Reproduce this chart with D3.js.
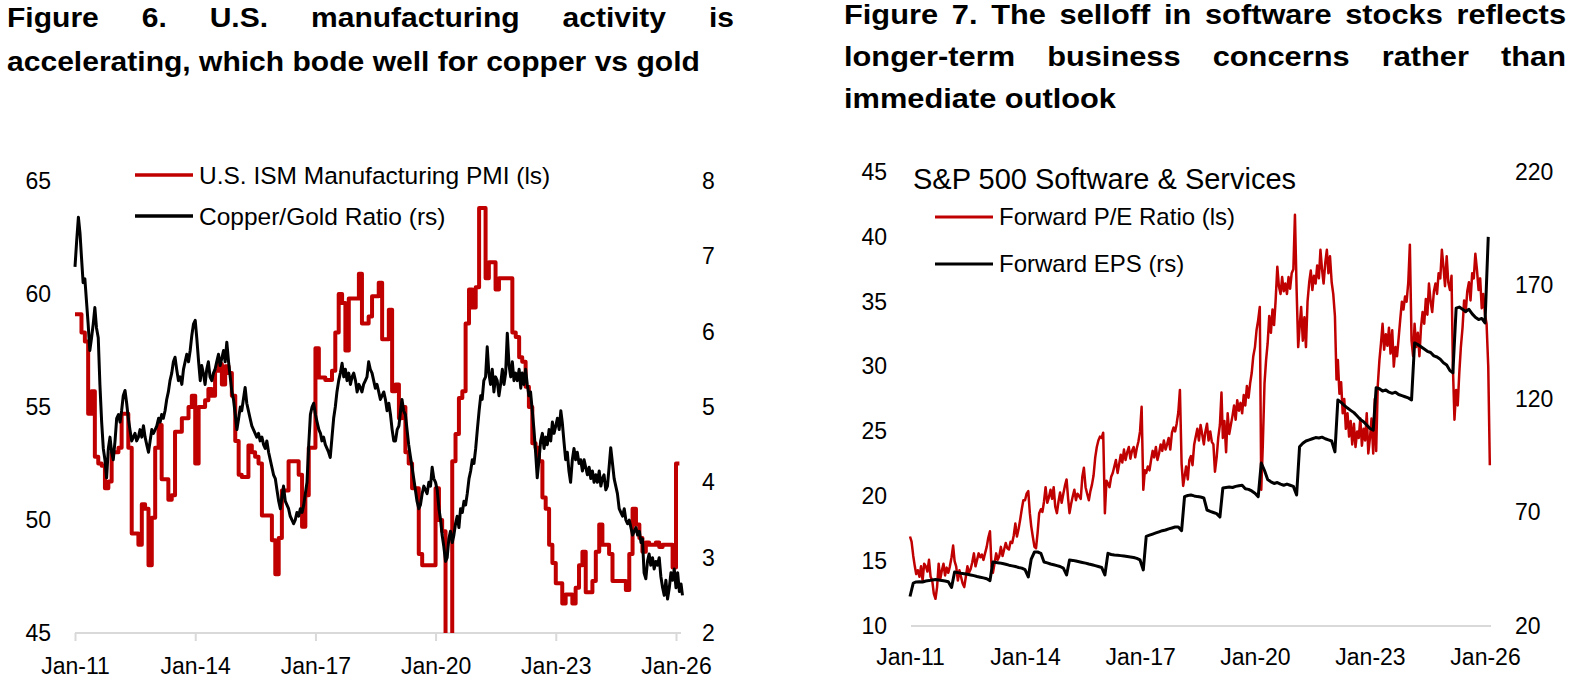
<!DOCTYPE html>
<html>
<head>
<meta charset="utf-8">
<script src="https://cdn.jsdelivr.net/npm/d3@7"></script>
<style>
  body { margin: 0; background: #fff; }
  svg text { font-family: "Liberation Sans", Arial, sans-serif; fill: #000; }
  svg text.ttl { font-weight: bold; font-size: 27.5px; }
</style>
</head>
<body>
<script>
// ---- data ----
// ISM manufacturing PMI, monthly from Jan-11 to Jan-26
var pmi = [
  59.1, 59.1, 58.3, 57.9, 54.7, 55.7, 52.8, 52.5, 52.4, 51.4, 51.7, 53.0,
  53.0, 53.2, 54.7, 54.7, 53.2, 49.4, 49.4, 48.9, 50.7, 50.5, 48.0, 50.1,
  53.2, 54.2, 51.8, 51.8, 50.9, 51.1, 53.9, 53.9, 54.5, 54.5, 55.0, 55.5,
  52.5, 55.0, 55.0, 55.3, 55.8, 55.5, 56.6, 56.9, 56.0, 56.8, 56.5, 55.5,
  53.5, 52.0, 51.9, 51.9, 53.3, 53.0, 52.8, 52.5, 50.2, 50.2, 50.2, 49.1,
  47.6, 49.2, 51.3, 51.3, 52.6, 52.6, 52.6, 52.0, 49.7, 51.1, 53.2, 53.2,
  57.6, 56.3, 56.3, 56.2, 56.2, 56.6, 58.3, 60.0, 59.6, 57.5, 59.8, 59.8,
  59.8, 60.9, 58.7, 58.7, 59.0, 59.9, 59.9, 60.5, 58.0, 58.0, 59.3, 55.7,
  56.0, 54.5, 55.0, 53.0, 52.5, 51.4, 51.4, 48.5, 48.0, 48.0, 48.0, 48.0,
  51.4, 50.0, 49.5, 41.5, 43.1, 52.6, 53.8, 55.4, 55.7, 58.7, 60.2, 59.4,
  60.3, 63.8, 63.8, 60.7, 61.4, 61.4, 60.2, 60.7, 60.7, 60.7, 60.7, 58.3,
  58.1, 57.2, 57.0, 55.9, 55.0, 53.4, 53.2, 52.6, 51.0, 50.5, 48.9, 48.1,
  47.2, 47.2, 46.3, 46.7, 46.7, 46.3, 47.0, 48.0, 48.6, 46.8, 46.8, 47.3,
  48.6, 49.8, 48.9, 48.9, 48.5, 47.3, 47.3, 47.3, 47.3, 46.9, 48.5, 50.5,
  49.8, 49.2, 48.6, 49.0, 48.9, 48.9, 49.0, 48.8, 48.9, 48.9, 48.9, 47.9,
  52.5
];

// copper/gold ratio, twice a month from Jan-11
var copperGold = [
  6.86, 7.2, 7.52, 7.3, 6.99, 6.65, 6.7, 6.4, 6.1, 5.75, 5.92, 6.1, 6.32, 6.05, 5.92, 5.3, 4.8, 4.45, 4.3, 4.06, 4.45, 4.6, 4.4, 4.3,
  4.55, 4.85, 4.9, 4.8, 4.95, 5.15, 5.22, 5.05, 4.85, 4.7, 4.55, 4.6, 4.65, 4.55, 4.6, 4.7, 4.6, 4.75, 4.6, 4.5, 4.4, 4.55, 4.7, 4.65,
  4.7, 4.75, 4.85, 4.8, 4.9, 4.85, 4.95, 5.1, 5.2, 5.35, 5.45, 5.6, 5.66, 5.5, 5.35, 5.4, 5.3, 5.5, 5.6, 5.7, 5.6, 5.75, 5.95, 6.1,
  6.15, 5.9, 5.6, 5.35, 5.55, 5.45, 5.3, 5.5, 5.6, 5.4, 5.35, 5.45, 5.5, 5.6, 5.7, 5.55, 5.65, 5.75, 5.6, 5.86, 5.6, 5.4, 5.2, 5.1,
  4.9, 4.7, 4.85, 5.0, 4.95, 5.1, 5.26, 5.05, 4.95, 4.85, 4.75, 4.7, 4.65, 4.6, 4.65, 4.55, 4.6, 4.5, 4.45, 4.55, 4.4, 4.3, 4.2, 4.1,
  4.05, 3.9, 3.75, 3.65, 3.8, 3.95, 3.75, 3.7, 3.65, 3.55, 3.5, 3.45, 3.5, 3.6, 3.55, 3.65, 3.6, 3.7, 3.85, 4.0, 4.5, 4.9, 5.0, 5.05,
  4.9, 4.8, 4.7, 4.65, 4.55, 4.6, 4.5, 4.45, 4.4, 4.33, 4.6, 4.85, 5.0, 5.2, 5.35, 5.45, 5.58, 5.4, 5.5, 5.35, 5.45, 5.3, 5.4, 5.45,
  5.35, 5.2, 5.3, 5.25, 5.2, 5.3, 5.35, 5.4, 5.6, 5.5, 5.45, 5.35, 5.25, 5.3, 5.2, 5.1, 5.15, 5.2, 5.1, 4.95, 5.05, 4.9, 4.7, 4.55,
  4.55, 4.7, 4.75, 4.95, 5.1, 4.95, 4.9, 4.7, 4.5, 4.35, 4.2, 4.05, 3.9, 3.75, 3.65, 3.7, 3.85, 3.95, 3.9, 3.85, 4.0, 3.95, 4.2, 4.05,
  4.0, 3.9, 3.65, 3.5, 3.3, 3.15, 2.95, 3.0, 3.25, 3.35, 3.2, 3.3, 3.45, 3.55, 3.4, 3.65, 3.6, 3.75, 3.7, 3.85, 4.05, 4.15, 4.3, 4.25,
  4.45, 4.7, 4.95, 5.15, 5.1, 5.35, 5.4, 5.8, 5.45, 5.3, 5.5, 5.2, 5.4, 5.35, 5.15, 5.3, 5.5, 5.3, 5.45, 5.98, 5.55, 5.4, 5.6, 5.35,
  5.45, 5.35, 5.5, 5.25, 5.45, 5.3, 5.5, 5.3, 5.15, 5.2, 4.95, 4.7, 4.4, 4.06, 4.3, 4.55, 4.65, 4.45, 4.6, 4.5, 4.7, 4.55, 4.8, 4.65,
  4.75, 4.85, 4.7, 4.95, 4.8, 4.55, 4.3, 4.4, 4.15, 4.0, 4.3, 4.45, 4.3, 4.4, 4.25, 4.3, 4.15, 4.3, 4.2, 4.1, 4.2, 4.05, 4.15, 4.0,
  4.1, 4.0, 4.15, 3.95, 4.05, 4.1, 3.9, 3.95, 4.2, 4.46, 4.25, 4.05, 3.95, 3.85, 3.65, 3.6, 3.55, 3.65, 3.5, 3.45, 3.5, 3.4, 3.3, 3.35,
  3.4, 3.3, 3.35, 3.2, 3.25, 2.8, 2.72, 2.95, 3.05, 2.9, 3.0, 2.85, 2.95, 2.9, 3.0, 2.75, 2.6, 2.5, 2.7, 2.45, 2.6, 2.8, 2.7, 2.85,
  2.6, 2.8, 2.55, 2.65, 2.5
];

// S&P 500 software & services forward P/E, twice a month from Jan-11
var forwardPE = [
  16.9, 16.5, 15.4, 14.6, 14.0, 14.3, 13.8, 14.6, 13.5, 14.8, 14.6, 14.2, 15.1, 13.8, 13.5, 12.5, 12.1, 13.0, 14.8, 13.6, 14.3, 14.8, 13.9, 14.5,
  14.1, 14.6, 15.3, 16.2, 15.0, 14.6, 13.5, 14.3, 13.8, 13.3, 13.0, 13.8, 14.6, 14.1, 14.4, 14.9, 15.6, 14.6, 15.1, 15.6, 15.3, 15.5, 15.1, 15.6,
  16.1, 16.8, 17.3, 14.6, 14.1, 14.8, 15.6, 15.1, 15.4, 16.1, 15.4, 15.9, 16.4, 16.0, 15.9, 16.5, 16.4, 17.0, 17.9, 16.9, 17.5, 18.2, 19.0, 19.7,
  19.7, 20.2, 20.4, 18.7, 17.7, 16.9, 16.1, 16.0, 17.2, 18.7, 19.0, 18.8, 19.6, 20.7, 19.5, 19.9, 20.5, 19.8, 20.7, 19.2, 18.7, 19.6, 20.3, 19.5,
  20.2, 20.8, 21.3, 19.8, 18.7, 19.4, 20.0, 20.5, 19.7, 20.2, 20.0, 19.8, 21.5, 22.2, 20.7, 20.2, 19.7, 20.4, 20.9, 21.6, 23.0, 23.8, 24.3, 24.6,
  24.5, 24.9, 18.7, 21.2, 21.0, 20.7, 21.5, 21.8, 22.3, 22.8, 21.8, 22.5, 23.2, 22.6, 23.6, 22.8, 23.4, 23.8, 22.9, 23.5, 23.8, 23.0, 23.7, 24.2,
  25.0, 26.9, 20.5, 22.0, 21.8, 22.3, 22.0, 22.8, 23.5, 23.0, 23.8, 22.8, 23.3, 24.0, 23.5, 24.3, 23.6, 24.0, 24.5, 23.6, 24.9, 25.3, 25.0, 25.6,
  26.5, 28.2, 22.5, 20.8, 21.5, 22.3, 21.3, 22.8, 23.1, 22.4, 24.0, 24.6, 25.2, 24.3, 25.5, 24.8, 24.0, 25.0, 25.6, 24.3, 25.0, 24.2, 24.0, 21.9,
  23.0, 24.5, 25.5, 28.0, 24.5, 25.8, 23.4, 26.4, 24.8, 25.5, 26.2, 27.0, 25.9, 27.4, 26.6, 27.2, 26.4, 27.8, 27.0, 28.5, 27.6, 28.7, 29.5, 30.8,
  31.5, 32.8, 33.6, 34.6, 20.5, 24.0, 28.7, 30.5, 31.8, 33.9, 32.6, 34.4, 33.2, 35.1, 37.7, 36.2, 35.6, 36.9, 35.8, 36.4, 35.6, 36.9, 36.0, 37.2,
  37.5, 41.7, 35.9, 31.5, 33.0, 34.6, 32.0, 33.8, 31.5, 35.0, 36.5, 37.4, 35.9, 37.0, 36.4, 37.8, 36.8, 39.0, 37.5, 36.4, 38.0, 39.0, 37.2, 38.5,
  36.5, 35.6, 33.9, 29.0, 30.5, 27.9, 28.8, 26.4, 27.5, 25.2, 26.4, 24.6, 25.8, 24.0, 25.6, 23.8, 25.0, 24.5, 26.0, 23.9, 25.2, 24.3, 26.4, 23.3,
  24.5, 26.0, 23.3, 27.5, 23.5, 28.5, 30.5, 31.8, 33.3, 31.3, 32.5, 31.6, 33.0, 31.0, 32.8, 30.0, 31.5, 30.8, 32.2, 33.6, 35.0, 34.4, 35.4, 35.0,
  36.5, 39.4, 32.0, 30.8, 33.3, 31.5, 32.6, 30.8, 33.0, 34.2, 33.3, 35.2, 34.0, 36.4, 35.0, 34.2, 35.8, 36.4, 35.6, 37.2, 36.8, 39.0, 37.7, 36.2,
  38.5, 36.5, 35.9, 37.0, 30.0, 25.9, 28.2, 27.0, 29.5, 31.5, 33.0, 35.1, 34.2, 35.8, 36.5, 35.1, 37.2, 36.8, 38.7, 37.5, 35.9, 36.8, 34.5, 35.6,
  34.0, 33.3, 30.0, 22.4
];

// forward EPS, monthly from Jan-11
var forwardEPS = [
  33.0, 38.9, 39.4, 39.5, 39.4, 39.8, 40.0, 40.3, 40.5, 40.3, 40.0, 39.8,
  39.5, 37.0, 43.8, 43.5, 43.2, 43.0, 42.8, 42.5, 42.2, 41.8, 41.5, 41.2,
  40.8, 40.0, 48.2, 48.0, 47.8, 47.5, 47.2, 46.8, 46.5, 46.2, 45.8, 45.5,
  44.8, 41.6, 49.5, 52.6, 52.6, 52.0, 48.2, 47.8, 47.3, 47.0, 46.6, 46.2,
  45.5, 42.5, 49.1, 48.9, 48.6, 48.3, 48.0, 47.7, 47.3, 47.0, 46.6, 46.2,
  45.8, 42.5, 52.0, 51.5, 51.3, 51.2, 51.0, 50.8, 50.6, 50.4, 50.2, 49.8,
  49.1, 44.7, 59.5, 60.0, 60.5, 61.0, 61.5, 62.0, 62.3, 62.8, 63.2, 63.6,
  63.6, 62.0, 77.0, 77.5, 77.7, 77.3, 77.0, 76.8, 76.4, 71.1, 70.5, 70.0,
  69.5, 68.0, 80.8, 81.0, 81.2, 81.0, 81.5, 81.8, 82.0, 80.5, 80.2, 79.5,
  78.5, 77.0, 91.8, 88.5, 84.5, 83.5, 82.8, 83.2, 82.5, 82.0, 82.5, 82.0,
  81.5, 77.7, 99.0, 100.5, 101.5, 102.0, 102.5, 103.0, 102.8, 103.2, 102.5, 102.0,
  101.5, 96.7, 119.6, 118.5, 117.2, 116.0, 115.0, 114.0, 112.5, 111.0, 110.0, 108.5,
  107.0, 106.3, 125.0, 124.5, 123.5, 124.0, 123.0, 122.5, 123.0, 122.0, 121.5, 121.0,
  120.5, 119.6, 144.7, 144.0, 143.0, 142.0, 141.0, 140.5, 139.0, 138.5, 137.5, 136.0,
  135.0, 132.5, 131.5, 160.0, 160.5, 159.5, 158.5, 159.5, 157.5, 156.0, 155.0, 155.5,
  153.5, 191.4
];

var tickYears = [2011, 2014, 2017, 2020, 2023, 2026];
var pmiTicks = [45, 50, 55, 60, 65];
var cgTicks = [2, 3, 4, 5, 6, 7, 8];
var peTicks = [10, 15, 20, 25, 30, 35, 40, 45];
var epsTicks = [20, 70, 120, 170, 220];

var title1 = ["Figure 6. U.S. manufacturing activity is",
              "accelerating, which bode well for copper vs gold"];
var title2 = ["Figure 7. The selloff in software stocks reflects",
              "longer-term business concerns rather than",
              "immediate outlook"];

var red = "#c00000";
var start = new Date(2011, 0, 1);
var end = new Date(2026, 0, 1);
var tickDates = tickYears.map(function(y) { return new Date(y, 0, 1); });
var fmt = d3.timeFormat("%b-%y");

function monthly(arr) {
  return arr.map(function(v, i) { return {date: d3.timeMonth.offset(start, i), v: v}; });
}
function halfMonthly(arr) {
  return arr.map(function(v, i) {
    var d = d3.timeMonth.offset(start, Math.floor(i / 2));
    return {date: i % 2 ? d3.timeDay.offset(d, 15) : d, v: v};
  });
}

var svg = d3.select("body").append("svg")
  .attr("width", 1591).attr("height", 691)
  .style("display", "block").style("background", "#fff");

// justified titles: all lines but the last are stretched to the block width
function drawTitle(lines, x0, x1, baselines, lastWidth) {
  var g = svg.append("g");
  var last = g.append("text").attr("class", "ttl")
    .attr("y", baselines[lines.length - 1]).text(lines[lines.length - 1]);
  var sx = lastWidth / last.node().getComputedTextLength();
  g.attr("transform", "translate(" + x0 + ",0) scale(" + sx + ",1)");
  var target = (x1 - x0) / sx;
  lines.slice(0, -1).forEach(function(s, i) {
    var t = g.append("text").attr("class", "ttl").attr("y", baselines[i]).text(s);
    var gaps = s.split(" ").length - 1;
    var w = t.node().getComputedTextLength();
    t.attr("word-spacing", (target - w) / gaps);
  });
}
drawTitle(title1, 7, 734, [27, 71], 693);
drawTitle(title2, 844, 1566, [24, 66, 108], 272);

// ================= chart 1 =================
var x1 = d3.scaleTime().domain([start, end]).range([75, 676]);
var y1L = d3.scaleLinear().domain([45, 65]).range([633, 181]);
var y1R = d3.scaleLinear().domain([2, 8]).range([633, 181]);

svg.append("clipPath").attr("id", "clip1")
  .append("rect").attr("x", 60).attr("y", 150).attr("width", 660).attr("height", 483);

// baseline
svg.append("line")
  .attr("x1", 75).attr("x2", 681).attr("y1", 633).attr("y2", 633)
  .attr("stroke", "#d9d9d9").attr("stroke-width", 2);

var ax1 = svg.append("g")
  .attr("transform", "translate(0,633)")
  .call(d3.axisBottom(x1).tickValues(tickDates).tickFormat(fmt).tickSize(8).tickPadding(17));
ax1.select(".domain").remove();
ax1.selectAll("line").attr("stroke", "#d9d9d9").attr("stroke-width", 2);
ax1.selectAll("text").style("font-size", "23px");

var al1 = svg.append("g")
  .attr("transform", "translate(51,0)")
  .call(d3.axisLeft(y1L).tickValues(pmiTicks).tickSize(0).tickPadding(0));
al1.select(".domain").remove();
al1.selectAll("text").style("font-size", "23px");

var ar1 = svg.append("g")
  .attr("transform", "translate(702,0)")
  .call(d3.axisRight(y1R).tickValues(cgTicks).tickFormat(d3.format("d")).tickSize(0).tickPadding(0));
ar1.select(".domain").remove();
ar1.selectAll("text").style("font-size", "23px");

var pmiPts = monthly(pmi);
// extend last step to the end of its month
pmiPts.push({date: d3.timeMonth.offset(start, pmi.length), v: pmi[pmi.length - 1]});

var g1 = svg.append("g").attr("clip-path", "url(#clip1)");
g1.append("path")
  .datum(pmiPts)
  .attr("fill", "none").attr("stroke", red).attr("stroke-width", 4)
  .attr("stroke-linejoin", "round")
  .attr("d", d3.line().curve(d3.curveStepAfter)
    .x(function(d) { return x1(d.date); })
    .y(function(d) { return y1L(d.v); }));

g1.append("path")
  .datum(halfMonthly(copperGold))
  .attr("fill", "none").attr("stroke", "#000").attr("stroke-width", 3)
  .attr("stroke-linejoin", "round")
  .attr("d", d3.line()
    .x(function(d) { return x1(d.date); })
    .y(function(d) { return y1R(d.v); }));

// legend
var leg1 = [
  {label: "U.S. ISM Manufacturing PMI (ls)", color: red, y: 175},
  {label: "Copper/Gold Ratio (rs)", color: "#000", y: 216}
];
leg1.forEach(function(d) {
  svg.append("line").attr("x1", 135).attr("x2", 193).attr("y1", d.y).attr("y2", d.y)
    .attr("stroke", d.color).attr("stroke-width", 3.5);
  svg.append("text").attr("x", 199).attr("y", d.y).attr("dy", "0.35em")
    .style("font-size", "24.5px").text(d.label);
});

// ================= chart 2 =================
var x2 = d3.scaleTime().domain([start, end]).range([910, 1485]);
var y2L = d3.scaleLinear().domain([10, 45]).range([626, 172]);
var y2R = d3.scaleLinear().domain([20, 220]).range([626, 172]);

svg.append("line")
  .attr("x1", 911).attr("x2", 1491).attr("y1", 626).attr("y2", 626)
  .attr("stroke", "#d9d9d9").attr("stroke-width", 2);

var ax2 = svg.append("g")
  .attr("transform", "translate(0,626)")
  .call(d3.axisBottom(x2).tickValues(tickDates).tickFormat(fmt).tickSize(0).tickPadding(23));
ax2.select(".domain").remove();
ax2.selectAll("text").style("font-size", "23px");

var al2 = svg.append("g")
  .attr("transform", "translate(887,0)")
  .call(d3.axisLeft(y2L).tickValues(peTicks).tickSize(0).tickPadding(0));
al2.select(".domain").remove();
al2.selectAll("text").style("font-size", "23px");

var ar2 = svg.append("g")
  .attr("transform", "translate(1515,0)")
  .call(d3.axisRight(y2R).tickValues(epsTicks).tickSize(0).tickPadding(0));
ar2.select(".domain").remove();
ar2.selectAll("text").style("font-size", "23px");

svg.append("path")
  .datum(halfMonthly(forwardPE))
  .attr("fill", "none").attr("stroke", red).attr("stroke-width", 2.5)
  .attr("stroke-linejoin", "round")
  .attr("d", d3.line()
    .x(function(d) { return x2(d.date); })
    .y(function(d) { return y2L(d.v); }));

svg.append("path")
  .datum(monthly(forwardEPS))
  .attr("fill", "none").attr("stroke", "#000").attr("stroke-width", 3)
  .attr("stroke-linejoin", "round")
  .attr("d", d3.line()
    .x(function(d) { return x2(d.date); })
    .y(function(d) { return y2R(d.v); }));

svg.append("text").attr("x", 913).attr("y", 179).attr("dy", "0.35em")
  .style("font-size", "29px").text("S&P 500 Software & Services");

var leg2 = [
  {label: "Forward P/E Ratio (ls)", color: red, y: 217},
  {label: "Forward EPS (rs)", color: "#000", y: 264}
];
leg2.forEach(function(d) {
  svg.append("line").attr("x1", 935).attr("x2", 993).attr("y1", d.y).attr("y2", d.y)
    .attr("stroke", d.color).attr("stroke-width", 3);
  svg.append("text").attr("x", 999).attr("y", d.y).attr("dy", "0.35em")
    .style("font-size", "24px").text(d.label);
});
</script>
</body>
</html>
